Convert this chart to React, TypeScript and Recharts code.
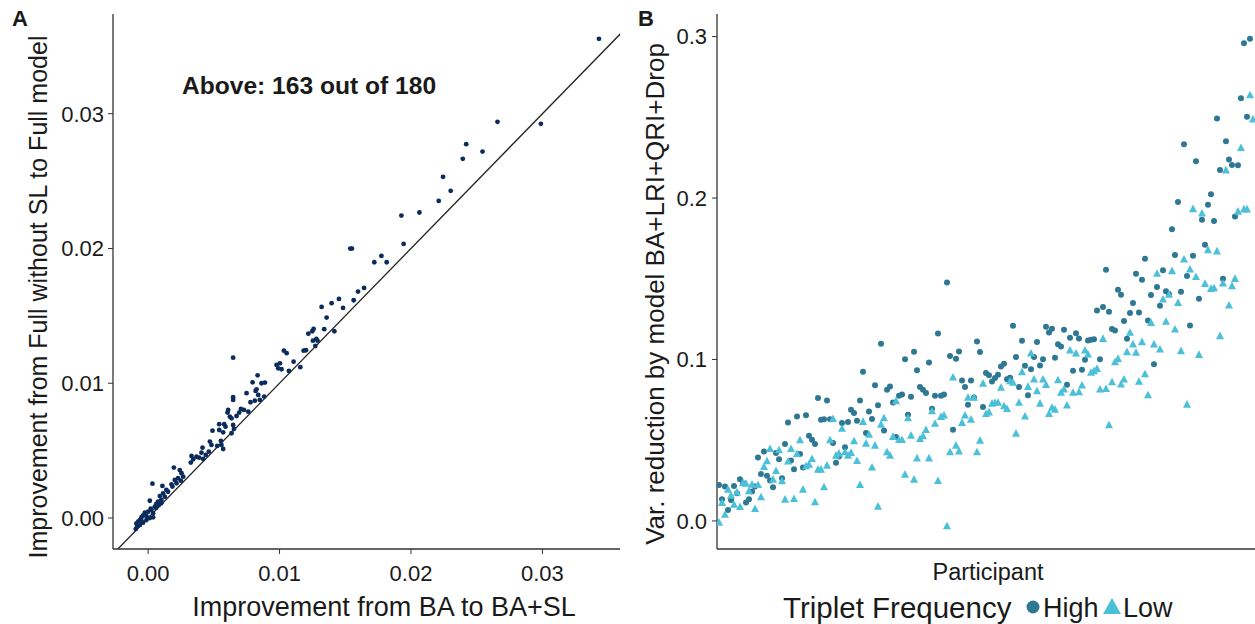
import React from "react";
import { ScatterChart, Scatter, XAxis, YAxis, ReferenceLine } from "recharts";

const FONT = '"Liberation Sans", Arial, Helvetica, sans-serif';

// Panel A: improvement from BA to BA+SL (x) vs improvement from Full without SL to Full model (y)
const improvementBA = [
  0.0343, 0.02658, 0.02988, 0.0242, 0.02394, 0.02544, 0.02244, 0.02302, 0.02211, 0.01927,
  0.02064, 0.01944, 0.01538, 0.01551, 0.01775, 0.01721, 0.01815, 0.01643, 0.01597, 0.01564,
  0.01452, 0.01396, 0.01483, 0.0132, 0.01358, 0.0134, 0.01417, 0.01219, 0.01259, 0.01249,
  0.01254, 0.0128, 0.01289, 0.01272, 0.01183, 0.01201, 0.01107, 0.01158,
  0.00647, 0.01033, 0.01054, 0.00977, 0.01003, 0.0099, 0.01015, 0.01071, 0.00833, 0.00795,
  0.00818, 0.00838, 0.00825, 0.00889, 0.00863, 0.00749, 0.00779, 0.00812, 0.00883, 0.0085,
  0.00647, 0.00647, 0.00706, 0.00693, 0.00729, 0.00762, 0.00673, 0.00609, 0.00604, 0.00622,
  0.00635, 0.00579, 0.00589, 0.00647, 0.00653, 0.00541, 0.00541, 0.00571, 0.00635, 0.0049,
  0.00554, 0.00558, 0.00526, 0.00571, 0.00414, 0.0047, 0.00482, 0.00462, 0.00439, 0.00406,
  0.00388, 0.00419, 0.00368, 0.0033, 0.00343, 0.00325, 0.00196, 0.00241, 0.00254, 0.00267,
  0.00228, 0.00203, 0.00249, 0.00216, 0.00178, 0.00185, 0.00033, 0.00109, 0.00139, 0.00152,
  0.00114, 0.00089, 0.00127, 0.00101, 0.00076, 0.00013, 0.00063, 0.00051, 0.00025, 0.00038,
  0.0, -0.00025, -0.00013, -0.00038, -0.00051, -0.00063, -0.00076, -0.00089, -0.00084, -0.00094,
  -0.00063, -0.00038, -0.00013, 0.00013, 0.00038, 0.0002, 0.0006, 0.0008, 0.001, -0.0005,
];
const improvementFull = [
  0.03556, 0.0294, 0.02925, 0.02774, 0.02665, 0.02719, 0.02532, 0.02428, 0.02353, 0.02244,
  0.02267, 0.02034, 0.01999, 0.01999, 0.01945, 0.01898, 0.01898, 0.01707, 0.0168, 0.01616,
  0.01626, 0.01594, 0.01559, 0.01566, 0.01487, 0.01401, 0.01386, 0.01368, 0.01403, 0.01386,
  0.01316, 0.01329, 0.01316, 0.01277, 0.01242, 0.01245, 0.0116, 0.01119,
  0.0119, 0.01242, 0.01223, 0.01136, 0.01148, 0.01111, 0.01104, 0.01091, 0.01059, 0.01007,
  0.00943, 0.00913, 0.00955, 0.01005, 0.01, 0.00926, 0.00859, 0.00871, 0.00901, 0.00876,
  0.00896, 0.00876, 0.00809, 0.00782, 0.00802, 0.00789, 0.00757, 0.00802, 0.00782, 0.00752,
  0.0074, 0.00696, 0.00678, 0.0069, 0.00661, 0.00696, 0.00653, 0.00636, 0.00629, 0.00648,
  0.00572, 0.00542, 0.00535, 0.00512, 0.00522, 0.00567, 0.00542, 0.00492, 0.00468, 0.00485,
  0.00448, 0.00438, 0.00455, 0.0046, 0.00436, 0.00411, 0.00374, 0.00356, 0.00332, 0.00307,
  0.00295, 0.00282, 0.00277, 0.00258, 0.0025, 0.00233, 0.00255, 0.00238, 0.00208, 0.00195,
  0.00183, 0.00163, 0.00158, 0.00134, 0.00121, 0.00128, 0.00104, 0.00084, 0.00059, 0.00035,
  0.00047, 0.00039, 0.00015, 0.0002, 0.00005, -0.00015, -0.00027, -0.0004, -0.00064, -0.00082,
  -0.00052, -0.00035, -0.00015, 0.0, 0.00005, 0.0007, 0.00075, 0.00095, 0.0011, -0.0002,
];
const aTicks = [0, 0.01, 0.02, 0.03];
const identityEnds = [-0.01, 0.05];

// Panel B: variance reduction per participant, by triplet frequency
const highFreq = [
  0.0223, 0.0134, 0.0213, 0.0068, 0.013, 0.0217, 0.0171, 0.0258, 0.0234, 0.0114,
  0.0134, 0.0182, 0.0213, 0.0393, 0.0291, 0.043, 0.0279, 0.025, 0.0209, 0.042,
  0.0382, 0.0265, 0.0477, 0.061, 0.0374, 0.032, 0.0647, 0.0415, 0.0331, 0.0655,
  0.0527, 0.0502, 0.0477, 0.0761, 0.0626, 0.063, 0.0746, 0.063, 0.0482, 0.0361,
  0.0399, 0.0606, 0.0457, 0.0612, 0.0688,
  0.0668, 0.062, 0.0746, 0.0924, 0.0544, 0.0678, 0.0632, 0.0841, 0.0717, 0.1097,
  0.056, 0.0812, 0.0833, 0.0733, 0.0519, 0.0775, 0.0783, 0.1002, 0.0657, 0.0769,
  0.1048, 0.0934, 0.0829, 0.0812, 0.0792, 0.0981, 0.0694, 0.0775, 0.1161, 0.0775,
  0.0783, 0.1477, 0.1021, 0.0564, 0.1004, 0.105, 0.087, 0.0829, 0.0719, 0.087,
  0.0764, 0.1111, 0.1046, 0.0705, 0.0916,
  0.0903, 0.0864, 0.0885, 0.0905, 0.0957, 0.0973, 0.0878, 0.0887, 0.1209, 0.1015,
  0.0829, 0.1116, 0.0961, 0.0779, 0.094, 0.1015, 0.1108, 0.0963, 0.1002, 0.1203,
  0.1167, 0.119, 0.1011, 0.1095, 0.1081, 0.1184, 0.0843, 0.1135, 0.093, 0.1163,
  0.113, 0.0936, 0.0998, 0.1118, 0.1122, 0.1126, 0.1304, 0.1002, 0.1325, 0.1556,
  0.1296, 0.1188, 0.118, 0.1432,
  0.1401, 0.1238, 0.1128, 0.1288, 0.135, 0.1531, 0.1291, 0.1494, 0.1624, 0.1242,
  0.1399, 0.0971, 0.1449, 0.1333, 0.1552, 0.1422, 0.1405, 0.1806, 0.1647, 0.1976,
  0.142, 0.2333, 0.1517, 0.1211, 0.1643, 0.2228, 0.1376, 0.1866, 0.1711, 0.1959,
  0.2023, 0.1858, 0.2492, 0.2174, 0.15, 0.2352, 0.2238, 0.2205, 0.1885, 0.2203,
  0.2618, 0.2959, 0.2503, 0.2986,
];
const lowFreq = [
  -0.0012, 0.011, 0.0037, 0.0192, 0.0155, 0.0099, 0.0175, 0.0085, 0.0234, 0.0229,
  0.0182, 0.0223, 0.0072, 0.0221, 0.0145, 0.0333, 0.0368, 0.0444, 0.0254, 0.0308,
  0.0436, 0.0244, 0.013, 0.0366, 0.0444, 0.0134, 0.0413, 0.0498, 0.0192, 0.0337,
  0.0347, 0.0382, 0.0114, 0.0316, 0.0316, 0.0207, 0.0341, 0.0498, 0.063, 0.0403,
  0.0415, 0.0569, 0.0424, 0.0403,
  0.042, 0.0492, 0.037, 0.0221, 0.0612, 0.0477, 0.0533, 0.0329, 0.0465, 0.0087,
  0.0595, 0.0634, 0.0424, 0.0403, 0.0519, 0.074, 0.05, 0.05, 0.0285, 0.0634,
  0.0527, 0.0254, 0.0386, 0.0506, 0.0523, 0.0562, 0.0386, 0.0678, 0.06, 0.0246,
  0.0643, 0.0651, -0.0035, 0.0424, 0.0887, 0.0465, 0.0429, 0.0606, 0.0651, 0.0761,
  0.0626, 0.0761, 0.0424, 0.0496, 0.0849, 0.0661,
  0.0671, 0.0725, 0.073, 0.073, 0.0823, 0.0709, 0.0692, 0.0864, 0.0854, 0.0539,
  0.073, 0.092, 0.0645, 0.0829, 0.1035, 0.0874, 0.0802, 0.0725, 0.0874, 0.0841,
  0.0661, 0.0699, 0.0688, 0.087, 0.0792, 0.0812, 0.0713, 0.1054, 0.0792, 0.1035,
  0.0795, 0.0837, 0.1054, 0.1029, 0.0916, 0.0926, 0.094, 0.0812, 0.1126, 0.0816,
  0.0591, 0.0857, 0.0981, 0.1002, 0.0843,
  0.0874, 0.1044, 0.1164, 0.1091, 0.104, 0.086, 0.1106, 0.0907, 0.0777, 0.1225,
  0.1091, 0.1529, 0.106, 0.137, 0.1232, 0.1399, 0.1546, 0.1184, 0.1349, 0.105,
  0.1618, 0.0719, 0.1556, 0.193, 0.1509, 0.1027, 0.1903, 0.1467, 0.1676, 0.1436,
  0.144, 0.1668, 0.1143, 0.1469, 0.217, 0.1333, 0.1453, 0.1498, 0.1914, 0.2308,
  0.1928, 0.1928, 0.2635, 0.2486,
];
const bTicks = [0, 0.1, 0.2, 0.3];

const panelA = improvementBA.map((x, i) => ({ x, y: improvementFull[i] }));
const highData = highFreq.map((value, i) => ({ participant: i + 1, value }));
const lowData = lowFreq.map((value, i) => ({ participant: i + 1, value }));

const AXIS = "#333333";
const TEXT = "#1a1a1a";
const NAVY = "#0b2b5c";
const HIGH = "#2f7893";
const LOW = "#4cc0d8";
const tickStyle = { fill: TEXT, fontSize: 22, fontFamily: FONT };

// small point shapes, ggplot-sized
const dot = (r: number, color: string) => (p: any) => <circle cx={p.cx} cy={p.cy} r={r} fill={color} />;
const tri = (s: number, color: string) => (p: any) => (
  <polygon
    points={`${p.cx},${p.cy - s * 0.6} ${p.cx + s / 2},${p.cy + s * 0.35} ${p.cx - s / 2},${p.cy + s * 0.35}`}
    fill={color}
  />
);

const abs = (left: number, top: number, extra: React.CSSProperties = {}): React.CSSProperties => ({
  position: "absolute",
  left,
  top,
  fontFamily: FONT,
  color: TEXT,
  whiteSpace: "nowrap",
  lineHeight: 1,
  ...extra,
});

function PanelA() {
  return (
    <ScatterChart width={640} height={624} margin={{ top: 14, right: 20, bottom: 0, left: 0 }}>
      <XAxis
        type="number"
        dataKey="x"
        domain={[-0.00267, 0.0359]}
        allowDataOverflow
        ticks={aTicks}
        tickFormatter={(v: number) => v.toFixed(2)}
        height={75}
        tickSize={5}
        tickMargin={11}
        tick={tickStyle}
        tickLine={{ stroke: AXIS }}
        axisLine={{ stroke: AXIS, strokeWidth: 1.3 }}
      />
      <YAxis
        type="number"
        dataKey="y"
        domain={[-0.0023, 0.0374]}
        allowDataOverflow
        ticks={aTicks}
        tickFormatter={(v: number) => v.toFixed(2)}
        width={113}
        tickSize={5}
        tickMargin={4}
        tick={tickStyle}
        tickLine={{ stroke: AXIS }}
        axisLine={{ stroke: AXIS, strokeWidth: 1.3 }}
      />
      <ReferenceLine
        segment={[
          { x: identityEnds[0], y: identityEnds[0] },
          { x: identityEnds[1], y: identityEnds[1] },
        ]}
        ifOverflow="hidden"
        stroke="#222"
        strokeWidth={1.3}
      />
      <Scatter data={panelA} fill={NAVY} shape={dot(2.4, NAVY)} isAnimationActive={false} />
    </ScatterChart>
  );
}

function PanelB() {
  return (
    <ScatterChart width={615} height={624} margin={{ top: 14, right: 0, bottom: 0, left: 0 }}>
      <XAxis
        type="number"
        dataKey="participant"
        domain={[0.33, 179.67]}
        allowDataOverflow
        tick={false}
        tickLine={false}
        height={75}
        axisLine={{ stroke: AXIS, strokeWidth: 1.3 }}
      />
      <YAxis
        type="number"
        dataKey="value"
        domain={[-0.0174, 0.314]}
        allowDataOverflow
        ticks={bTicks}
        tickFormatter={(v: number) => v.toFixed(1)}
        width={77}
        tickSize={5}
        tickMargin={5}
        tick={tickStyle}
        tickLine={{ stroke: AXIS }}
        axisLine={{ stroke: AXIS, strokeWidth: 1.3 }}
      />
      <Scatter data={highData} fill={HIGH} shape={dot(3, HIGH)} isAnimationActive={false} />
      <Scatter data={lowData} fill={LOW} shape={tri(8, LOW)} isAnimationActive={false} />
    </ScatterChart>
  );
}

export default function App() {
  const rotated: React.CSSProperties = { transform: "translate(-50%, -50%) rotate(-90deg)" };
  return (
    <div style={{ position: "absolute", left: 0, top: 0, width: 1255, height: 624, overflow: "hidden", background: "#fff" }}>
      <div style={{ position: "absolute", left: 0, top: 0 }}>
        <PanelA />
      </div>
      <div style={{ position: "absolute", left: 640, top: 0 }}>
        <PanelB />
      </div>

      <div style={abs(12, 8, { fontSize: 22, fontWeight: "bold" })}>A</div>
      <div style={abs(638, 8, { fontSize: 22, fontWeight: "bold" })}>B</div>
      <div style={abs(309, 86, { fontSize: 24.6, fontWeight: "bold", transform: "translate(-50%, -50%)" })}>
        Above: 163 out of 180
      </div>

      <div style={abs(38, 297, { ...rotated, fontSize: 25 })}>Improvement from Full without SL to Full model</div>
      <div style={abs(384, 607, { fontSize: 27, transform: "translate(-50%, -50%)" })}>
        Improvement from BA to BA+SL
      </div>

      <div style={abs(655, 294, { ...rotated, fontSize: 26 })}>Var. reduction by model BA+LRI+QRI+Drop</div>
      <div style={abs(988, 573, { fontSize: 23.5, transform: "translate(-50%, -50%)" })}>Participant</div>

      <div style={abs(783, 593, { fontSize: 29.5 })}>Triplet Frequency</div>
      <svg width={16} height={16} style={{ position: "absolute", left: 1025, top: 599 }}>
        <circle cx={8} cy={8} r={6.5} fill={HIGH} />
      </svg>
      <div style={abs(1043, 595, { fontSize: 27 })}>High</div>
      <svg width={20} height={18} style={{ position: "absolute", left: 1102, top: 597 }}>
        <polygon points="10,1 19,17 1,17" fill={LOW} />
      </svg>
      <div style={abs(1123, 595, { fontSize: 27 })}>Low</div>
    </div>
  );
}
